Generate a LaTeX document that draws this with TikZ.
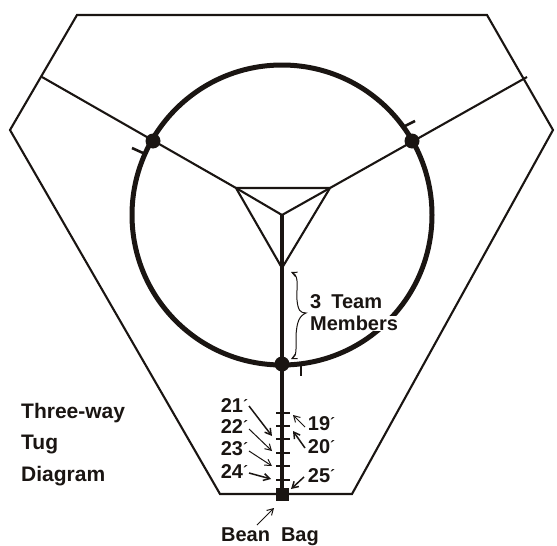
\documentclass[tikz,border=0pt]{standalone}
\usepackage{fontspec}
\setmainfont{Liberation Sans}
\usetikzlibrary{arrows.meta}
\definecolor{ink}{HTML}{1A1512}
\tikzset{
  thinline/.style={draw=ink,line width=2.1pt},
  midline/.style={draw=ink,line width=3.2pt},
  ringline/.style={draw=ink,line width=5pt},
  tickline/.style={draw=ink,line width=2.6pt},
  dot/.style={circle,fill=ink,minimum size=15pt,inner sep=0pt},
  lab/.style={font=\bfseries\fontsize{20}{22}\selectfont,text=ink,inner sep=0pt},
  biglab/.style={font=\bfseries\fontsize{21}{24}\selectfont,text=ink,inner sep=0pt,anchor=west},
  pointer/.style={draw=ink,line width=1pt,-{Straight Barb[length=6pt,width=7pt]}},
  pointerb/.style={draw=ink,line width=1.5pt,-{Straight Barb[length=6pt,width=7pt]}}
}
\newcommand{\pr}{\rlap{\raisebox{0.1em}{\fontsize{15}{15}\selectfont\textasciiacute}}}
\begin{document}
\begin{tikzpicture}[x=1pt,y=-1pt]
\useasboundingbox (0,0) rectangle (557,546);
\coordinate (ot1) at (77,15); \coordinate (ot2) at (487,15);
\coordinate (or) at (553,130); \coordinate (obr) at (352,494);
\coordinate (obl) at (220,494); \coordinate (ol) at (10,130);
\coordinate (ctr) at (282,215);
\coordinate (tl) at (236,188); \coordinate (tr) at (330,188); \coordinate (tb) at (282,268);
\coordinate (il) at (42,77); \coordinate (ir) at (527,77);
\draw[thinline,line join=miter] (ot1)--(ot2)--(or)--(obr)--(obl)--(ol)--cycle;
\draw[ringline] (ctr) circle[radius=150];
\draw[thinline] (il)--(tl) (ir)--(tr);
\draw[thinline,line join=miter] (tl)--(tr)--(tb)--cycle;
\draw[thinline] (tl)--(ctr)--(tr);
\coordinate (bag) at (282,494);
\draw[midline] (ctr)--(bag);
\node[dot] (d1) at (282,364) {};
\node[dot] (d2) at (153,141) {};
\node[dot] (d3) at (412,141) {};
\node[fill=ink,minimum size=13pt,inner sep=0pt] (bb) at (bag) {};
% ring ticks
\draw[tickline] (301,365)--(301,376);
\draw[tickline] (132,148)--(143,153);
\draw[tickline] (415,121)--(405,126);
% rope marks
\foreach \y in {413,426,439,453,466,480}{\draw[tickline] (276,\y)--(290,\y);}
% brace
\draw[draw=ink,line width=1pt,{Straight Barb[length=5pt,width=5pt]}-{Straight Barb[length=5pt,width=5pt]}]
 (291,272) .. controls (300,276) and (296,290) .. (297,300)
 .. controls (298,310) and (300,313) .. (306,313)
 .. controls (299,316) and (297,322) .. (296,335)
 .. controls (296,348) and (297,356) .. (291,359);
\node[lab,anchor=west] (t1) at (310,302) {3\hspace{0.5em}Team};
\node[lab,anchor=west,fill=white,inner xsep=1pt,inner ysep=0pt] (t2) at (309,323.5) {Members};
% left labels
\node[lab] (n21) at (232,406) {21\pr};
\node[lab] (n22) at (232,427) {22\pr};
\node[lab] (n23) at (232,449) {23\pr};
\node[lab] (n24) at (232,472) {24\pr};
\node[lab] (n19) at (319,424) {19\pr};
\node[lab] (n20) at (319,447) {20\pr};
\node[lab] (n25) at (319,476) {25\pr};
\coordinate (a21) at (272,436); \coordinate (a22) at (272,451);
\coordinate (a23) at (272,466); \coordinate (a24) at (271,479);
\coordinate (a19) at (293,415); \coordinate (a20) at (293,431); \coordinate (a25) at (291,489);
\draw[pointerb] (249,406)--(a21);
\draw[pointer] (249,429)--(a22);
\draw[pointer] (249,451)--(a23);
\draw[pointerb] (249,473)--(a24);
\draw[pointer] (305,427)--(a19);
\draw[pointerb] (305,448)--(a20);
\draw[pointerb] (304,477)--(a25);
% bean bag
\node[lab] (bean) at (270,537) {Bean\hspace{0.55em}Bag};
\coordinate (a0) at (274,508);
\draw[pointer] (257,525)--(a0);
% title
\node[biglab] (h1) at (21,413) {Three-way};
\node[biglab] (h2) at (21,444) {Tug};
\node[biglab] (h3) at (21,476) {Diagram};
\end{tikzpicture}
\end{document}
